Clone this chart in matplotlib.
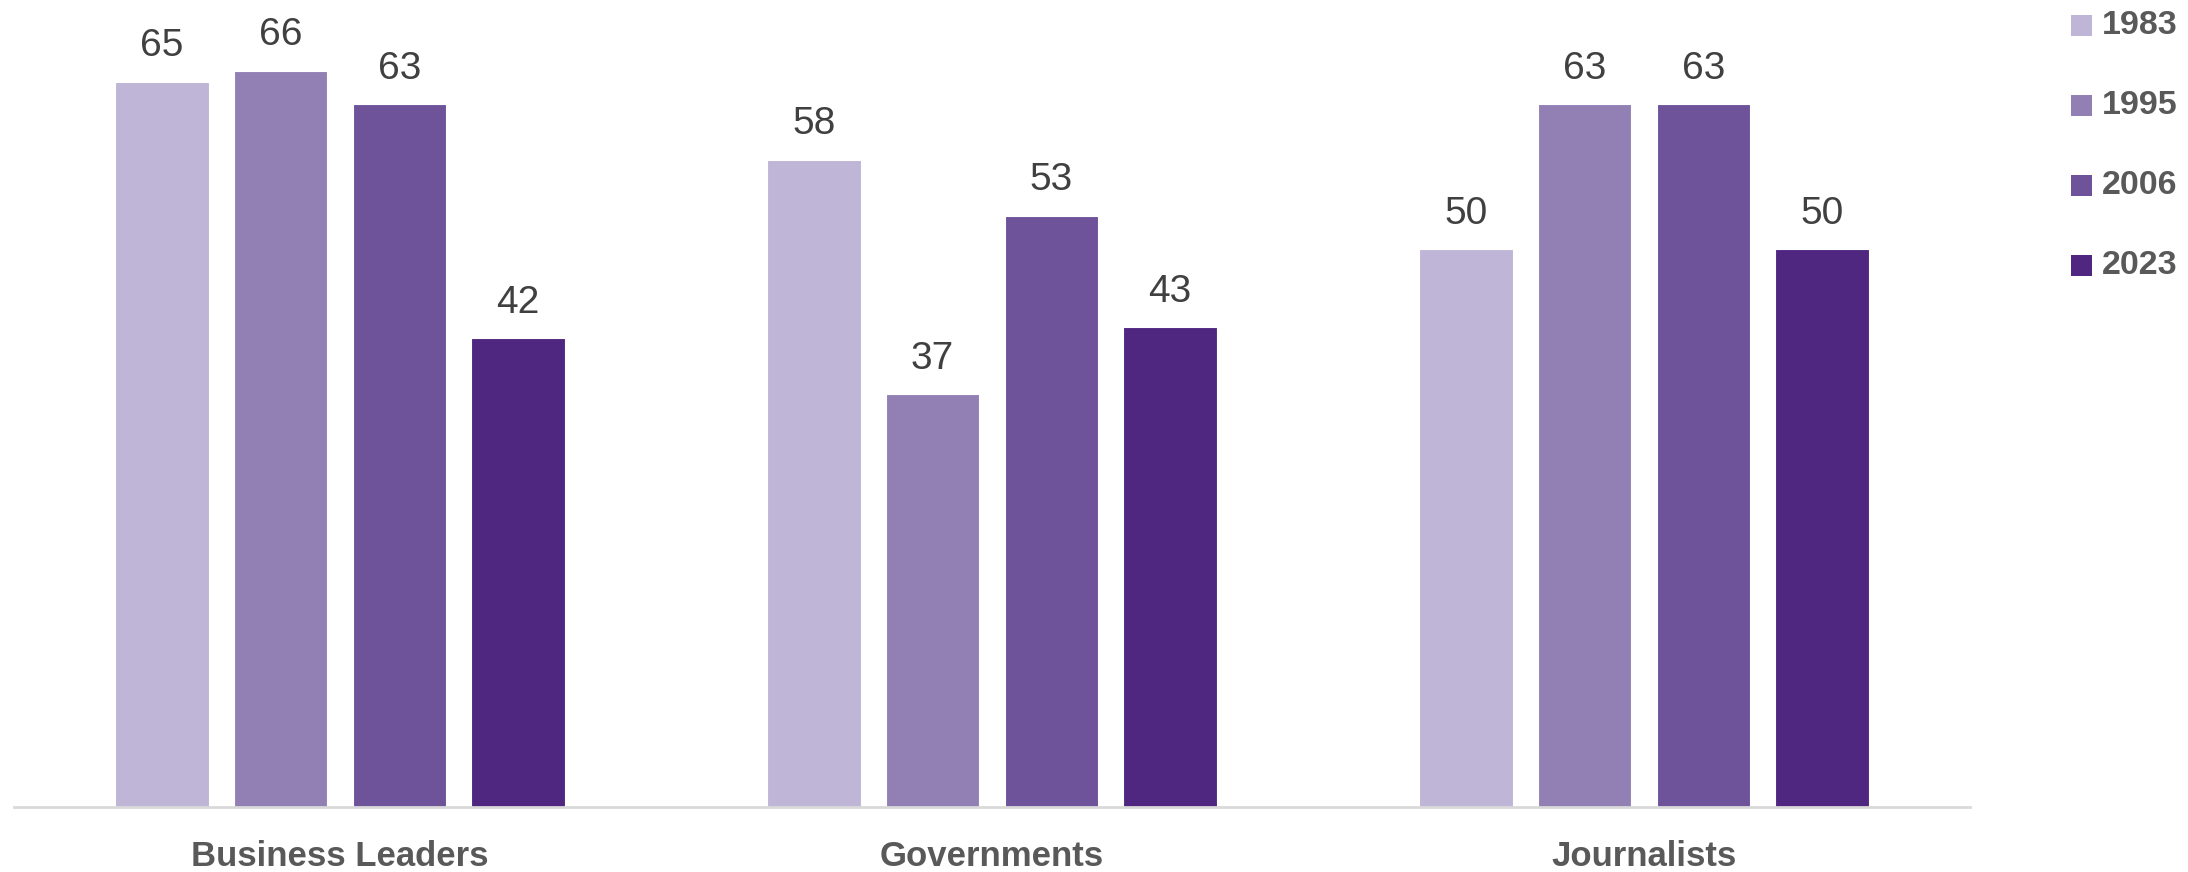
import matplotlib
matplotlib.use("Agg")
import matplotlib.pyplot as plt
from matplotlib.patches import Rectangle

plt.rcParams['font.family'] = ['Liberation Sans', 'DejaVu Sans']

categories = ["Business Leaders", "Governments", "Journalists"]
years = ["1983", "1995", "2006", "2023"]
values = {
    "1983": [65, 58, 50],
    "1995": [66, 37, 63],
    "2006": [63, 53, 63],
    "2023": [42, 43, 50],
}
colors = ["#BFB5D7", "#9280B5", "#6E539B", "#4F2780"]

W, H = 2188, 872
fig = plt.figure(figsize=(W / 100, H / 100), dpi=100)
ax = fig.add_axes([14 / W, 1 - 806.6 / H, (1970 - 14) / W, (806.6 - 26) / H])

step = 0.182
bar_w = 0.1434
n = len(years)
for i, (yr, col) in enumerate(zip(years, colors)):
    xs = [c + (i - (n - 1) / 2) * step for c in range(len(categories))]
    bars = ax.bar(xs, values[yr], width=bar_w, color=col, edgecolor="white",
                  linewidth=0.8, zorder=2)
    for b, v in zip(bars, values[yr]):
        ax.annotate(str(v), (b.get_x() + b.get_width() / 2, v),
                    xytext=(0, 12.5), textcoords="offset points",
                    ha="center", va="bottom", fontsize=28, color="#404040")

ax.set_xlim(-0.5, len(categories) - 0.5)
ax.set_ylim(0, 70)
ax.set_xticks(range(len(categories)))
ax.set_xticklabels(categories, fontsize=25, fontweight="bold", color="#595959")
ax.tick_params(axis="x", length=0, pad=24)
ax.set_yticks([])
for s in ["top", "right", "left"]:
    ax.spines[s].set_visible(False)
ax.spines["bottom"].set_color("#D9D9D9")
ax.spines["bottom"].set_linewidth(2)
ax.spines["bottom"].set_zorder(3)

# legend on the right, stacked vertically
leg_y = [26, 106, 186, 266]
for yr, col, yc in zip(years, colors, leg_y):
    sq = 21
    fig.patches.append(Rectangle((2071 / W, 1 - (yc + sq / 2) / H), sq / W, sq / H,
                                 transform=fig.transFigure, facecolor=col,
                                 edgecolor="none"))
    fig.text(2102 / W, 1 - yc / H, yr, ha="left", va="center", fontsize=24.5,
             fontweight="bold", color="#595959")

fig.savefig("out.png", dpi=100)
